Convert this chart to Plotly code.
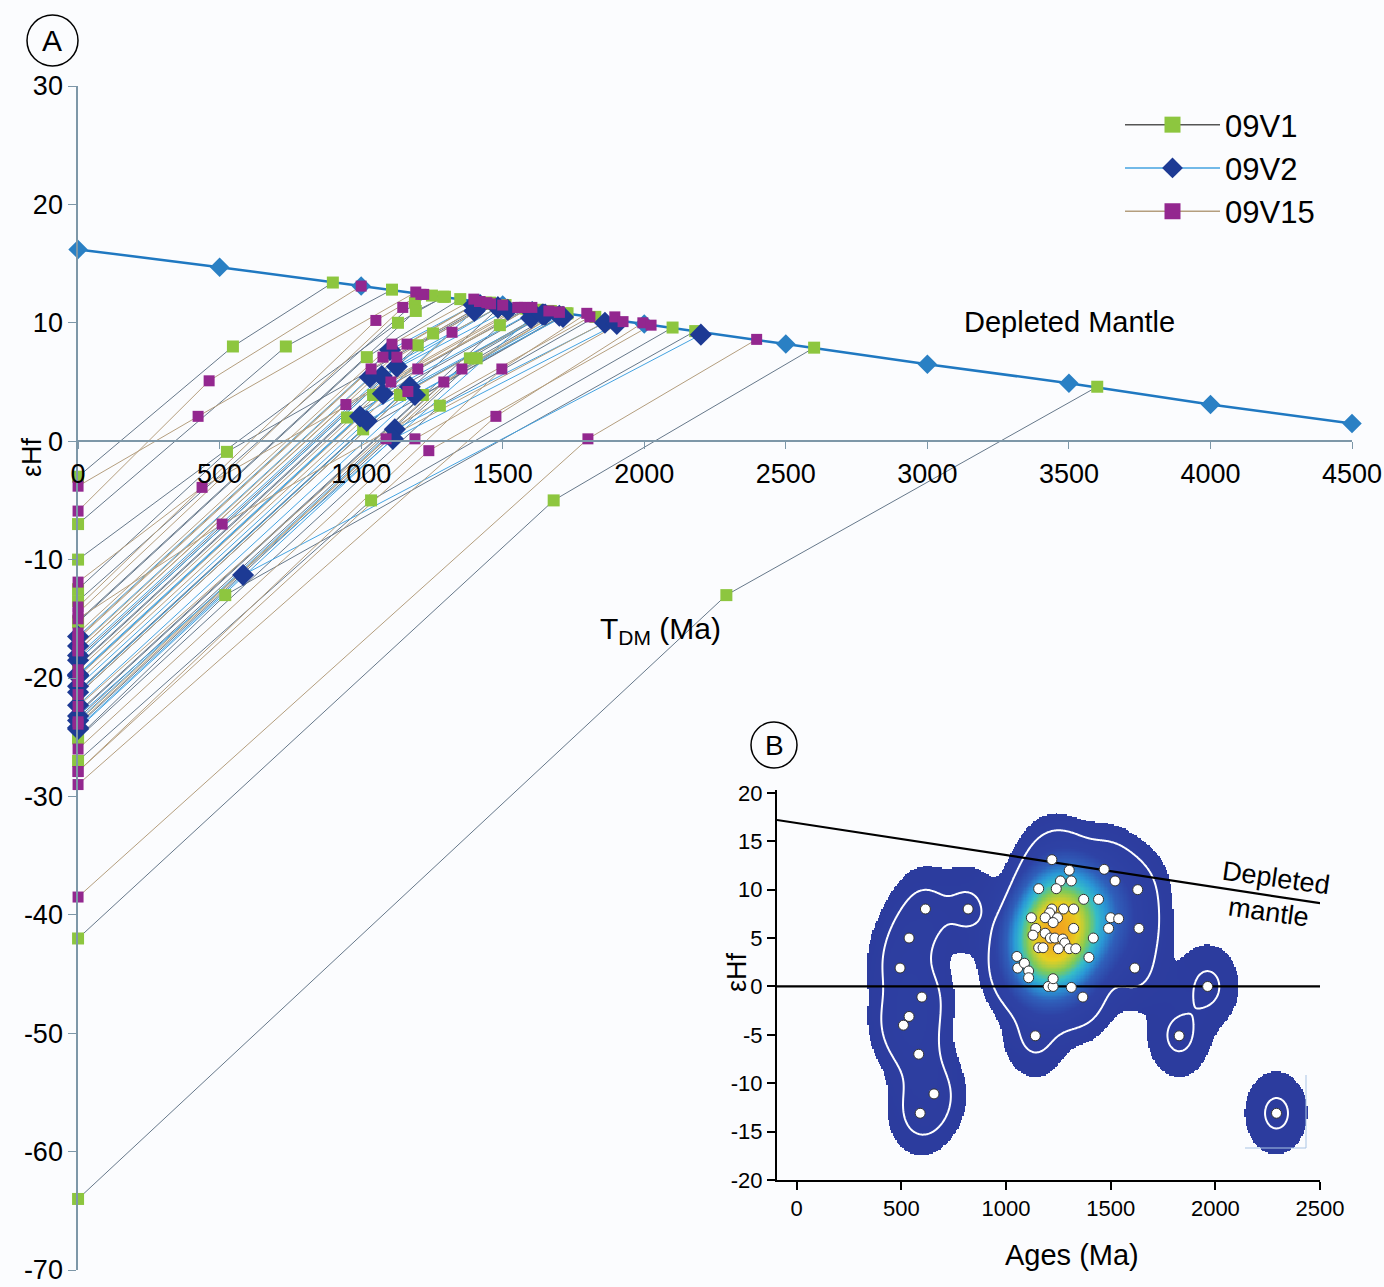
import numpy as np
import plotly.graph_objects as go

# ---------------- Panel A data ----------------
dm_age = [0, 500, 1000, 1500, 2000, 2500, 3000, 3500, 4000, 4500]
dm_eps = [16.2, 14.7, 13.1, 11.5, 9.9, 8.2, 6.5, 4.9, 3.1, 1.5]

# 09V1 : present-day eHf (x=0), crystallisation age, eHf(t), T_DM, eHf at T_DM
v1_e0 = [-64, -42, -27, -25, -12.5, -3, -7, -13.5, -15.2, -10, -18.5, -18.3, -15.3, -23.4, -24, -19, -21.1, -22.9, -25.1, -18.9, -21.2, -21.4, -23]
v1_age = [2290, 1680, 1035, 520, 526, 547, 734, 1190, 1193, 1130, 1254, 1200, 1020, 1384, 1408, 1042, 1137, 1218, 1278, 950, 1007, 1497, 1490]
v1_eps = [-13.0, -5.0, -5.0, -13.0, -0.9, 8.0, 8.0, 11.7, 11.0, 10.0, 9.1, 8.1, 7.1, 7.0, 7.0, 3.9, 3.9, 3.9, 3.0, 2.0, 1.0, 11.5, 9.8]
v1_tdm = [3600, 2600, 2100, 2180, 1455, 900, 1109, 1250, 1296, 1290, 1440, 1457, 1350, 1670, 1691, 1582, 1659, 1724, 1827, 1622, 1729, 1510, 1588]
v1_edm = [4.6, 7.9, 9.6, 9.3, 11.7, 13.4, 12.8, 12.3, 12.2, 12.2, 11.7, 11.6, 12.0, 11.0, 10.9, 11.2, 11.0, 10.8, 10.5, 11.1, 10.8, 11.5, 11.2]

# 09V2
v2_e0 = [-24.2, -16.5, -18.5, -17.3, -18.1, -19.7, -21.2, -22.3, -19.8, -20.7, -23.6, -24.3, -19.8, -23.2]
v2_age = [583, 1102, 1126, 1031, 1073, 1077, 1172, 1190, 996, 1020, 1119, 1112, 1400, 1600]
v2_eps = [-11.3, 7.7, 6.3, 5.4, 5.5, 4.0, 4.6, 3.9, 2.1, 1.7, 1.0, 0.2, 11.0, 10.4]
v2_tdm = [2200, 1398, 1483, 1483, 1518, 1604, 1645, 1713, 1650, 1700, 1861, 1903, 1420, 1640]
v2_edm = [9.0, 11.5, 11.3, 11.3, 11.1, 10.9, 10.7, 10.5, 10.7, 10.6, 10.0, 9.9, 11.5, 10.7]

# 09V15
v15_e0 = [-38.5, -5.9, -3.8, -11.9, -15, -14.5, -14, -19.9, -16.2, -17.4, -16.6, -17.7, -16.7, -20.3, -23.9, -27.9, -19.3, -21.4, -22.4, -17.7, -29, -23.7, -26, -27.9]
v15_age = [1801, 463, 424, 438, 509, 1147, 1052, 1321, 1109, 1162, 1077, 1126, 1035, 1200, 1356, 1497, 1105, 1165, 1292, 946, 1476, 1088, 1190, 1239]
v15_eps = [0.2, 5.1, 2.1, -3.9, -7.0, 11.3, 10.2, 9.2, 8.2, 8.2, 7.1, 7.1, 6.1, 6.1, 6.1, 6.1, 5.0, 4.2, 5.0, 3.1, 2.1, 0.2, 0.2, -0.8]
v15_tdm = [2397, 1000, 1193, 1564, 1808, 1221, 1211, 1500, 1398, 1420, 1418, 1457, 1444, 1577, 1700, 1797, 1603, 1663, 1700, 1553, 1995, 1896, 1925, 2024]
v15_edm = [8.6, 13.1, 12.6, 11.3, 10.5, 12.4, 12.4, 11.5, 12.0, 11.8, 11.8, 11.6, 11.7, 11.3, 10.9, 10.8, 11.3, 11.0, 10.9, 11.3, 10.0, 10.5, 10.1, 9.8]

ticksA_x = list(range(0, 4501, 500))
ticksA_y = list(range(-70, 31, 10))

# ---------------- Panel B data ----------------
b_age = [615, 819, 537, 494, 598, 537, 510, 583, 656, 590,
         1140, 1052, 1056, 1088, 1108, 1108, 1202, 1225, 1225, 1312, 1367,
         1219, 1302, 1260, 1312, 1240, 1156, 1469, 1521, 1629,
         1371, 1442, 1275, 1323, 1219, 1208, 1121, 1187, 1246, 1225,
         1500, 1538, 1490, 1635, 1323, 1142, 1129, 1187, 1212, 1233,
         1271, 1417, 1281, 1156, 1177, 1250, 1302, 1333, 1396, 1615,
         1827, 1963, 2292]
b_eps = [8.0, 8.0, 5.0, 1.9, -1.1, -3.1, -4.0, -7.0, -11.1, -13.1,
         -5.1, 3.1, 1.9, 2.4, 1.6, 0.9, 0.0, 0.0, 0.8, -0.1, -1.1,
         13.1, 12.0, 10.9, 10.9, 10.1, 10.1, 12.1, 10.9, 10.0,
         9.0, 9.0, 8.0, 8.0, 8.0, 7.6, 7.1, 7.1, 7.1, 6.6,
         7.1, 7.0, 6.0, 6.0, 6.0, 6.0, 5.3, 5.5, 5.0, 5.0,
         4.9, 5.0, 4.5, 4.0, 4.0, 3.9, 3.9, 3.9, 3.0, 1.9,
         -5.1, 0.0, -13.1]
b_dm_age = [-94, 2500]
b_dm_eps = [17.2, 8.6]
ticksB_x = list(range(0, 2501, 500))
ticksB_y = list(range(-20, 21, 5))

FONT = "Liberation Sans, Arial, sans-serif"
W, H = 1384, 1287
def px(x): return x / W
def py(y): return 1 - y / H
def lab(v): return str(v)

def segs(e0, age, eps, tdm, edm):
    xs, ys = [], []
    for a, b, c, d, e in zip(e0, age, eps, tdm, edm):
        xs += [0, b, d, None]
        ys += [a, c, e, None]
    return xs, ys

fig = go.Figure()

series = [
    ("09V1", (v1_e0, v1_age, v1_eps, v1_tdm, v1_edm), "#66788a", "#8dc63f", "square", 12),
    ("09V2", (v2_e0, v2_age, v2_eps, v2_tdm, v2_edm), "#45a3e0", "#1d3a94", "diamond", 17),
    ("09V15", (v15_e0, v15_age, v15_eps, v15_tdm, v15_edm), "#b49e7e", "#93278f", "square", 11),
]
for name, d, lc, mc, sym, ms in series:
    xs, ys = segs(*d)
    fig.add_trace(go.Scatter(x=xs, y=ys, mode="lines", line=dict(color=lc, width=1),
                             showlegend=False, hoverinfo="skip", cliponaxis=False))
fig.add_trace(go.Scatter(x=dm_age, y=dm_eps, mode="lines+markers",
                         line=dict(color="#1f78c1", width=2.5),
                         marker=dict(symbol="diamond", size=15, color="#2a80c4"),
                         showlegend=False, cliponaxis=False))
for name, d, lc, mc, sym, ms in series:
    xs, ys = segs(*d)
    fig.add_trace(go.Scatter(x=xs, y=ys, mode="markers",
                             marker=dict(symbol=sym, size=ms, color=mc, line=dict(width=0)),
                             showlegend=False, cliponaxis=False))
for name, d, lc, mc, sym, ms in series:
    fig.add_trace(go.Scatter(x=[None], y=[None], mode="lines+markers", name=name,
                             line=dict(color=lc if name != "09V1" else "#555555", width=1.5),
                             marker=dict(symbol=sym, size=ms + 8, color=mc)))

# ---------------- Panel B density ----------------
gx = np.linspace(-94, 2500, 430)
gy = np.linspace(-20, 20.3, 280)
GX, GY = np.meshgrid(gx, gy)

def kde(hx, hy):
    out = np.zeros_like(GX)
    for a, e in zip(b_age, b_eps):
        out += np.exp(-0.5 * ((GX - a) / hx) ** 2 - 0.5 * ((GY - e) / hy) ** 2)
    return out

D = kde(82.0, 2.35)          # outline / contour density
Dc = kde(140.0, 3.8)         # smoother density for colouring
thr_out, thr_in = 0.19, 0.8
Zc = Dc / Dc.max()
Zm = np.where(D >= thr_out, Zc, np.nan)
cs = [[0.0, "#2c3b9d"], [0.28, "#2e42a5"], [0.42, "#2f5fba"], [0.54, "#2a98d6"],
      [0.64, "#35bcc8"], [0.74, "#7fca58"], [0.86, "#e6cf22"], [1.0, "#f2a31e"]]
fig.add_trace(go.Heatmap(x=gx, y=gy, z=Zm, colorscale=cs, zmin=0, zmax=1, showscale=False,
                         xaxis="x2", yaxis="y2", hoverinfo="skip", showlegend=False))
fig.add_trace(go.Contour(x=gx, y=gy, z=D, xaxis="x2", yaxis="y2", showscale=False, showlegend=False,
                         contours=dict(coloring="none", start=thr_in, end=thr_in, size=1),
                         line=dict(color="white", width=2), hoverinfo="skip"))
fig.add_trace(go.Scatter(x=b_dm_age, y=b_dm_eps, mode="lines", line=dict(color="black", width=2.2),
                         xaxis="x2", yaxis="y2", showlegend=False))
fig.add_trace(go.Scatter(x=[-94, 2500], y=[0, 0], mode="lines", line=dict(color="black", width=2.2),
                         xaxis="x2", yaxis="y2", showlegend=False))
fig.add_trace(go.Scatter(x=b_age, y=b_eps, mode="markers", xaxis="x2", yaxis="y2", showlegend=False,
                         marker=dict(size=10, color="white", line=dict(color="#333333", width=1))))

axA = dict(showgrid=False, zeroline=False, showline=True, linecolor="#7d97a8", linewidth=1.5,
           ticks="outside", tickcolor="#7d97a8", automargin=False, ticklabeloverflow="allow",
           tickfont=dict(size=27, color="black", family=FONT))
axB = dict(showgrid=False, zeroline=False, showline=True, linecolor="black", linewidth=2,
           ticks="outside", tickcolor="black", ticklen=8, tickwidth=2, automargin=False,
           tickfont=dict(size=22, color="black", family=FONT))
ydomA = [py(1270), py(86)]
fig.update_layout(
    width=W, height=H, margin=dict(l=0, r=0, t=0, b=0, autoexpand=False),
    paper_bgcolor="#fbfcfe", plot_bgcolor="rgba(0,0,0,0)",
    font=dict(family=FONT, color="black"),
    xaxis=dict(axA, domain=[0.0564, 0.9769], range=[0, 4500], anchor="free",
               position=ydomA[0] + 0.7 * (ydomA[1] - ydomA[0]),
               tickvals=ticksA_x, ticktext=[lab(v) for v in ticksA_x], ticklen=7, ticklabelstandoff=2),
    yaxis=dict(axA, domain=ydomA, range=[-70, 30], anchor="x",
               tickvals=ticksA_y, ticktext=[lab(v) for v in ticksA_y], ticklen=8),
    xaxis2=dict(axB, domain=[0.5614, 0.9538], range=[-94, 2500], anchor="y2",
                tickvals=ticksB_x, ticktext=[lab(v) for v in ticksB_x]),
    yaxis2=dict(axB, domain=[0.0831, 0.3862], range=[-20, 20.3], anchor="x2",
                tickvals=ticksB_y, ticktext=[lab(v) for v in ticksB_y]),
    legend=dict(x=px(1120), y=py(98), xanchor="left", yanchor="top", bgcolor="rgba(0,0,0,0)",
                font=dict(size=31, family=FONT), itemwidth=95, tracegroupgap=0),
    showlegend=True,
)

ann = [
    dict(x=px(52), y=py(41), text="A", font=dict(size=30)),
    dict(x=px(32), y=py(457), text="εHf", textangle=-90, font=dict(size=27)),
    dict(x=px(660), y=py(630), text="T<sub>DM</sub> (Ma)", font=dict(size=30)),
    dict(x=px(1069), y=py(322), text="Depleted Mantle", font=dict(size=29)),
    dict(x=px(774), y=py(745), text="B", font=dict(size=28)),
    dict(x=px(737), y=py(972), text="εHf", textangle=-90, font=dict(size=27)),
    dict(x=px(1072), y=py(1255), text="Ages (Ma)", font=dict(size=29)),
    dict(x=px(1276), y=py(878), text="Depleted", textangle=8, font=dict(size=27)),
    dict(x=px(1268), y=py(912), text="mantle", textangle=8, font=dict(size=27)),
]
for a in ann:
    a.update(xref="paper", yref="paper", showarrow=False, xanchor="center", yanchor="middle")
    a["font"].update(family=FONT, color="black")
    fig.add_annotation(**a)

fig.add_shape(type="circle", xref="paper", yref="paper", x0=px(27), x1=px(78), y0=py(66), y1=py(15),
              line=dict(color="black", width=1.5))
fig.add_shape(type="circle", xref="paper", yref="paper", x0=px(751), x1=px(797), y0=py(768), y1=py(722),
              line=dict(color="black", width=1.5))
fig.add_shape(type="line", xref="paper", yref="paper", x0=px(1306), x1=px(1306), y0=py(1148), y1=py(1075),
              line=dict(color="#a9c4e4", width=1))
fig.add_shape(type="line", xref="paper", yref="paper", x0=px(1245), x1=px(1306), y0=py(1148), y1=py(1148),
              line=dict(color="#a9c4e4", width=1))

fig.write_html("out.html", config={"displayModeBar": False},
               post_script="document.body.style.margin='0';document.body.style.padding='0';"
                           "document.documentElement.style.margin='0';document.body.style.overflow='hidden';")
